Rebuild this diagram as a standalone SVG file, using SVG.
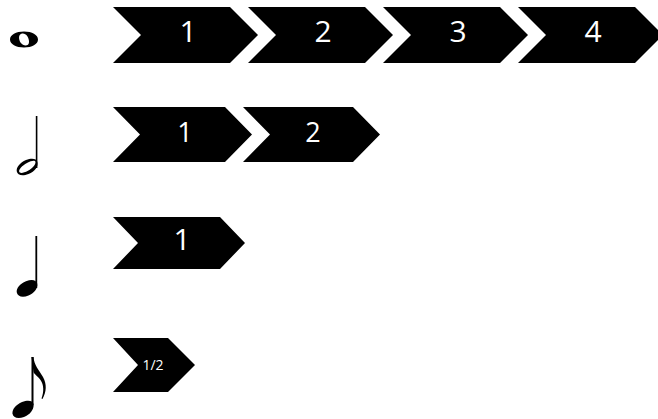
<svg xmlns="http://www.w3.org/2000/svg" width="658" height="419" viewBox="0 0 658 419">
<style>
.chev{fill:#000}
.lbl{fill:#fff;font-family:"Open Sans","Liberation Sans",sans-serif;text-anchor:middle}
.note{fill:#000}
</style>
<rect width="658" height="419" fill="#fff"/>
<g id="whole-note">
<path class="note" fill-rule="evenodd" d="M24,31.5 C32,31.5 38,35 38,39.5 C38,44 32,47.5 24,47.5 C16,47.5 10,44 10,39.5 C10,35 16,31.5 24,31.5 Z M21,34 C18.5,35 18.5,39 20.5,42.5 C22.5,45.5 26,46 27.5,45 C29.5,43.8 29.5,40 27.5,36.5 C25.5,33.5 23,33.2 21,34 Z"/>
</g>
<g id="half-note">
<rect class="note" x="35.8" y="116" width="1.6" height="52"/>
<path class="note" fill-rule="evenodd" d="M37.4,162 C38.5,166.5 35,171.5 28.5,174 C22,176.5 17.5,175 16.8,171.5 C16,167.5 20,162.5 26,160 C32,157.8 36.5,158.6 37.4,162 Z M35.5,161.8 C34.8,160.2 31.5,160.6 27,163 C22,165.6 18.6,169.5 19.2,171.8 C19.8,173.6 23.5,173.2 28,170.8 C33,168 36.2,163.8 35.5,161.8 Z"/>
</g>
<g id="quarter-note">
<rect class="note" x="35.4" y="236" width="1.8" height="52"/>
<path class="note" d="M37.2,283.5 C38.2,287.8 34.5,293 28.5,295.5 C22.5,298 17.5,296.5 16.8,292.5 C16,288.5 20,283.5 26,281.2 C32,279 36.3,280 37.2,283.5 Z"/>
</g>
<g id="eighth-note">
<rect class="note" x="31.5" y="357" width="2" height="48"/>
<path class="note" d="M33.5,404 C34.3,409 30.5,414.5 24,417 C17.5,419.5 13,417.5 12.5,413.5 C12,409.5 16,404.5 22,402 C28,399.8 32.8,400.5 33.5,404 Z"/>
<path class="note" d="M31.5,357 L33.5,357 C34,365 39,370 43,377 C47,384 46.5,392 42.5,399 L41.5,398.5 C44,392 44,385 40.5,380 C37.5,376 34,374 33.5,372 Z"/>
</g>
<g id="row1">
<g id="r1c1"><polygon class="chev" points="113,7 230,7 258,35 230,63 113,63 141,35"/><text class="lbl" x="188" y="42" font-size="30">1</text></g>
<g id="r1c2"><polygon class="chev" points="248,7 365,7 393,35 365,63 248,63 276,35"/><text class="lbl" x="323" y="42" font-size="30">2</text></g>
<g id="r1c3"><polygon class="chev" points="383,7 500,7 528,35 500,63 383,63 411,35"/><text class="lbl" x="458" y="42" font-size="30">3</text></g>
<g id="r1c4"><polygon class="chev" points="518,7 635,7 663,35 635,63 518,63 546,35"/><text class="lbl" x="593" y="42" font-size="30">4</text></g>
</g>
<g id="row2">
<g id="r2c1"><polygon class="chev" points="113,107 225,107 252,134.5 225,162 113,162 140,134.5"/><text class="lbl" x="185" y="142" font-size="27">1</text></g>
<g id="r2c2"><polygon class="chev" points="243,107 353,107 380,134.5 353,162 243,162 270,134.5"/><text class="lbl" x="313" y="142" font-size="27">2</text></g>
</g>
<g id="row3">
<g id="r3c1"><polygon class="chev" points="113,217 220,217 245,243 220,269 113,269 138,243"/><text class="lbl" x="182" y="250" font-size="30">1</text></g>
</g>
<g id="row4">
<g id="r4c1"><polygon class="chev" points="113,338 168,338 195,365 168,392 113,392 138,365"/><text class="lbl" x="153" y="370" font-size="14">1/2</text></g>
</g>
</svg>
